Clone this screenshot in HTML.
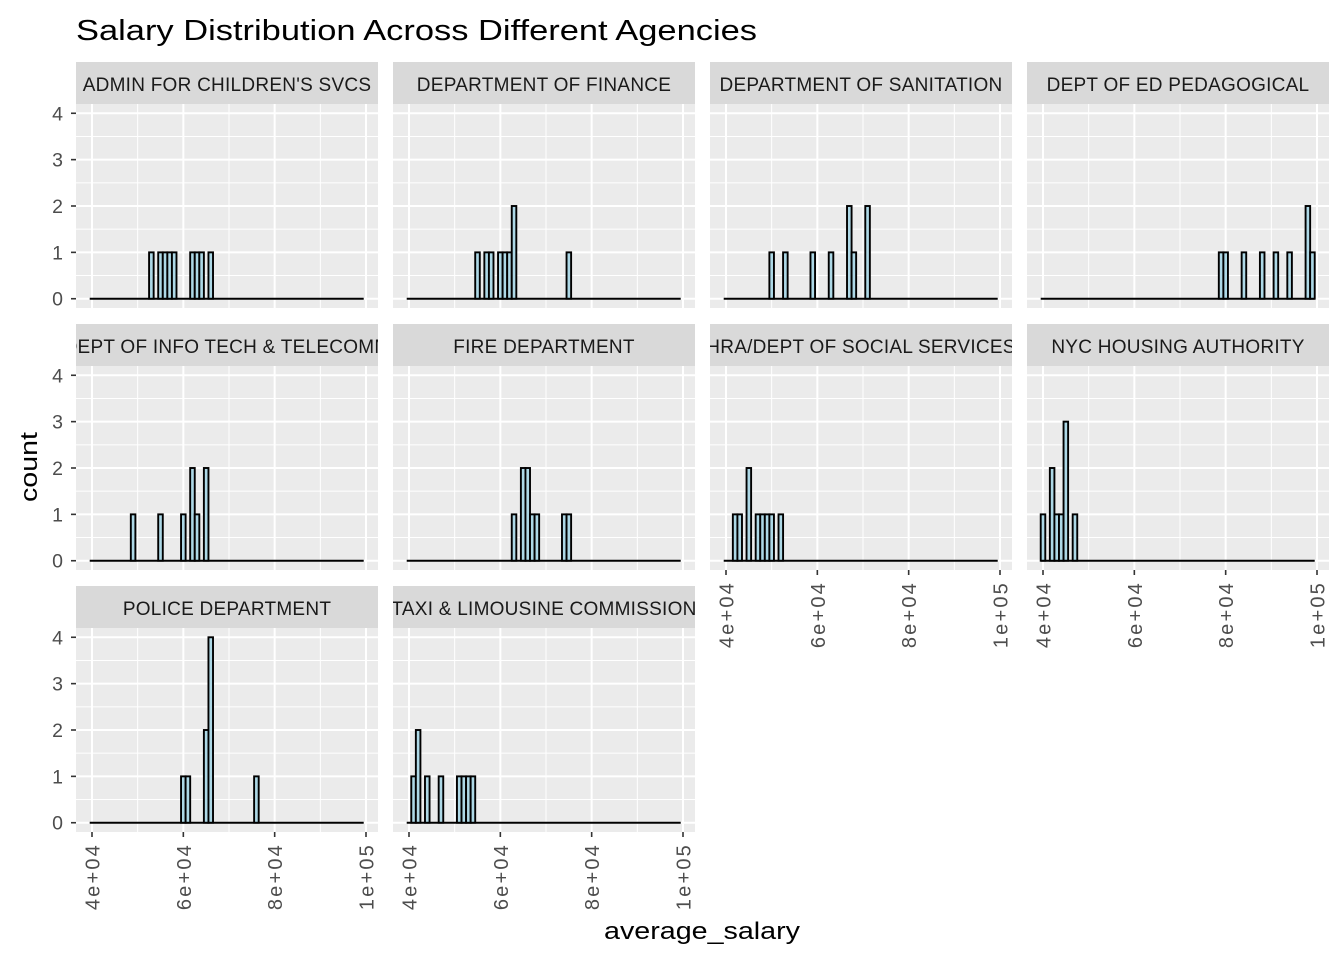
<!DOCTYPE html>
<html><head><meta charset="utf-8"><style>
html,body{margin:0;padding:0;background:#fff;}
svg{display:block;font-family:"Liberation Sans",Arial,sans-serif;}
</style></head><body>
<svg id="chart" width="1344" height="960" xmlns="http://www.w3.org/2000/svg">
<text x="76" y="40" font-size="29" textLength="681" lengthAdjust="spacingAndGlyphs" fill="#000">Salary Distribution Across Different Agencies</text>
<text transform="translate(37,467) rotate(-90)" text-anchor="middle" font-size="24" textLength="70" lengthAdjust="spacingAndGlyphs" fill="#000">count</text>
<text x="604" y="939" font-size="24" textLength="196" lengthAdjust="spacingAndGlyphs" fill="#000">average_salary</text>
<g id="panels"></g>
</svg>
<script>
// Facet names
const agencies = ["ADMIN FOR CHILDREN'S SVCS","DEPARTMENT OF FINANCE","DEPARTMENT OF SANITATION","DEPT OF ED PEDAGOGICAL","DEPT OF INFO TECH & TELECOMM","FIRE DEPARTMENT","HRA/DEPT OF SOCIAL SERVICES","NYC HOUSING AUTHORITY","POLICE DEPARTMENT","TAXI & LIMOUSINE COMMISSION"];
// Histogram bins: start salary, width
const binStart = 39500;
const binWidth = 1000;
const binCount = 60;
// non-zero bins per agency: [bin index, count]
const binsAdmin = [[13,1],[15,1],[16,1],[17,1],[18,1],[22,1],[23,1],[24,1],[26,1]];
const binsFinance = [[15,1],[17,1],[18,1],[20,1],[21,1],[22,1],[23,2],[35,1]];
const binsSanitation = [[10,1],[13,1],[19,1],[23,1],[27,2],[28,1],[31,2]];
const binsPedagogical = [[39,1],[40,1],[44,1],[48,1],[51,1],[54,1],[58,2],[59,1]];
const binsInfoTech = [[9,1],[15,1],[20,1],[22,2],[23,1],[25,2]];
const binsFire = [[23,1],[25,2],[26,2],[27,1],[28,1],[34,1],[35,1]];
const binsHRA = [[2,1],[3,1],[5,2],[7,1],[8,1],[9,1],[10,1],[12,1]];
const binsNYCHA = [[0,1],[2,2],[3,1],[4,1],[5,3],[7,1]];
const binsPolice = [[20,1],[21,1],[25,2],[26,4],[36,1]];
const binsTaxi = [[1,1],[2,2],[4,1],[7,1],[11,1],[12,1],[13,1],[14,1]];
const allBins = [binsAdmin,binsFinance,binsSanitation,binsPedagogical,binsInfoTech,binsFire,binsHRA,binsNYCHA,binsPolice,binsTaxi];
const xTicks = [40000,60000,80000,100000];
const xTickLabels = ["4e+04","6e+04","8e+04","1e+05"];
const xMinor = [50000,70000,90000];
const yTicks = [0,1,2,3,4];
const yMinor = [0.5,1.5,2.5,3.5];

const NS="http://www.w3.org/2000/svg";
const colLeft=[76,393,710,1027], panelW=302, stripTops=[62,324,586], stripH=42, panelH=204;
const g=document.getElementById('panels');
function el(tag,attrs,parent){const e=document.createElementNS(NS,tag);for(const k in attrs)e.setAttribute(k,attrs[k]);(parent||g).appendChild(e);return e;}
function xs(c,s){return colLeft[c]+16+(s-40000)*274/60000;}
function ys(r,v){return stripTops[r]+stripH+panelH-(v+0.2)*panelH/4.4;}
const defs=el('defs',{});
agencies.forEach((name,i)=>{
  const r=Math.floor(i/4), c=i%4;
  const px=colLeft[c], st=stripTops[r], pt=st+stripH;
  const grp=el('g',{});
  
  
  const strip=el('rect',{x:px,y:st,width:panelW,height:stripH,fill:'#d9d9d9'},grp);
  
  
  const cp=el('clipPath',{id:'cp'+i},defs);
  el('rect',{x:px,y:st,width:panelW,height:stripH},cp);
  const lab=el('text',{x:px+panelW/2,y:st+29,'text-anchor':'middle','font-size':'19','letter-spacing':'0.25',fill:'#1a1a1a','clip-path':'url(#cp'+i+')'},grp);
  lab.textContent=name;
  
  
  const bg=el('rect',{x:px,y:pt,width:panelW,height:panelH,fill:'#ebebeb'},grp);
  
  
  yMinor.forEach(v=>el('line',{x1:px,x2:px+panelW,y1:ys(r,v),y2:ys(r,v),stroke:'#fff','stroke-width':1},grp));
  xMinor.forEach(v=>el('line',{x1:xs(c,v),x2:xs(c,v),y1:pt,y2:pt+panelH,stroke:'#fff','stroke-width':1},grp));
  yTicks.forEach(v=>el('line',{x1:px,x2:px+panelW,y1:ys(r,v),y2:ys(r,v),stroke:'#fff','stroke-width':2},grp));
  xTicks.forEach(v=>el('line',{x1:xs(c,v),x2:xs(c,v),y1:pt,y2:pt+panelH,stroke:'#fff','stroke-width':2},grp));
  const base=el('line',{x1:xs(c,binStart),x2:xs(c,binStart+binCount*binWidth),y1:ys(r,0),y2:ys(r,0),stroke:'#000','stroke-width':2},grp);
  
  
  allBins[i].forEach(([b,n])=>{
    const x0=xs(c,binStart+b*binWidth), x1=xs(c,binStart+(b+1)*binWidth);
    const bar=el('rect',{x:x0,y:ys(r,n),width:x1-x0,height:ys(r,0)-ys(r,n),fill:'#add8e6',stroke:'#000','stroke-width':1.9},grp);
    
    
  });
  if(c===0){
    yTicks.forEach(v=>{
      el('line',{x1:px-5,x2:px,y1:ys(r,v),y2:ys(r,v),stroke:'#333','stroke-width':1.6},grp);
      const t=el('text',{x:px-13,y:ys(r,v)+7,'text-anchor':'end','font-size':'19.5',fill:'#4d4d4d'},grp);
      t.textContent=v;
      
      
    });
  }
  const bottomRow = (r===2) || (r===1 && c>=2);
  if(bottomRow){
    const yb=pt+panelH;
    xTicks.forEach((v,k)=>{
      el('line',{x1:xs(c,v),x2:xs(c,v),y1:yb,y2:yb+5,stroke:'#333','stroke-width':1.6},grp);
      const t=el('text',{transform:'translate('+(xs(c,v)+7.5)+','+(yb+11)+') rotate(-90)','text-anchor':'end','font-size':'20','letter-spacing':'2.2',fill:'#4d4d4d'},grp);
      t.textContent=xTickLabels[k];
      
      
    });
  }
});
</script>
</body></html>
